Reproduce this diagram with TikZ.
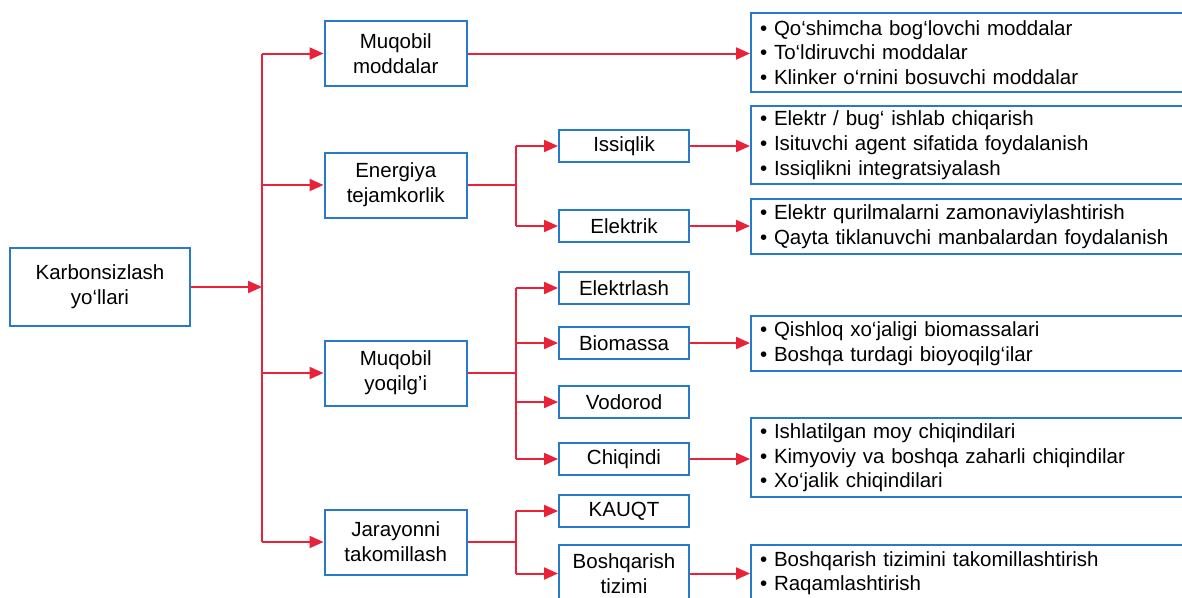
\documentclass[tikz,border=0pt]{standalone}
\usepackage{fontspec}
\setmainfont{Liberation Sans}
\usetikzlibrary{arrows.meta}
\definecolor{lnred}{RGB}{232,34,56}
\definecolor{bxblue}{RGB}{38,122,200}
\begin{document}
\begin{tikzpicture}[x=1pt,y=-1pt,
  font=\fontsize{20.5}{24.7}\selectfont,
  box/.style={draw=bxblue,line width=2pt,rectangle,inner sep=0pt,align=center},
  lone/.style={box,minimum width=142.5pt,minimum height=65pt},
  ltwo/.style={box,minimum width=130pt,minimum height=32.5pt},
  lthree/.style={draw=bxblue,line width=2pt,rectangle,anchor=west,inner xsep=9pt,inner ysep=0pt,text width=442pt,align=left},
  conn/.style={draw=lnred,line width=2pt},
  arr/.style={conn,-{Triangle[length=14pt,width=12pt]}}]
\useasboundingbox (0,0) rectangle (1182,597);
\clip (0,0) rectangle (1182,597);
\fill[white] (0,0) rectangle (1182,597);

% root
\node[box,minimum width=180pt,minimum height=78pt] (root) at (100,287) {Karbonsizlash\\yo‘llari};

% level 1
\node[lone] (mm) at (395.75,53.5) {Muqobil\\moddalar};
\node[lone] (et) at (395.75,185) {Energiya\\tejamkorlik};
\node[lone] (my) at (395.75,373) {Muqobil\\yoqilg’i};
\node[lone] (jt) at (395.75,542) {Jarayonni\\takomillash};

% level 2
\node[ltwo] (iss) at (624,146) {Issiqlik};
\node[ltwo] (elk) at (624,226) {Elektrik};
\node[ltwo] (ell) at (624,288) {Elektrlash};
\node[ltwo] (bio) at (624,343) {Biomassa};
\node[ltwo] (vod) at (624,402) {Vodorod};
\node[ltwo] (chq) at (624,459) {Chiqindi};
\node[ltwo] (kau) at (624,511) {KAUQT};
\node[ltwo,minimum height=57pt] (bos) at (624,573.5) {Boshqarish\\tizimi};

% level 3
\node[lthree,minimum height=79.6pt] (la) at (750,52.5) {• Qo‘shimcha bog‘lovchi moddalar\\• To‘ldiruvchi moddalar\\• Klinker o‘rnini bosuvchi moddalar};
\node[lthree,minimum height=78.3pt] (lb) at (750,145.2) {• Elektr / bug‘ ishlab chiqarish\\• Isituvchi agent sifatida foydalanish\\• Issiqlikni integratsiyalash};
\node[lthree,minimum height=55pt] (lc) at (750,226.5) {• Elektr qurilmalarni zamonaviylashtirish\\• Qayta tiklanuvchi manbalardan foydalanish};
\node[lthree,minimum height=55pt] (ld) at (750,343.5) {• Qishloq xo‘jaligi biomassalari\\• Boshqa turdagi bioyoqilg‘ilar};
\node[lthree,minimum height=79pt] (le) at (750,457.8) {• Ishlatilgan moy chiqindilari\\• Kimyoviy va boshqa zaharli chiqindilar\\• Xo‘jalik chiqindilari};
\node[lthree,minimum height=57pt] (lf) at (750,573.3) {• Boshqarish tizimini takomillashtirish\\• Raqamlashtirish};

% main trunk
\coordinate (t0) at (262,287);
\coordinate (ttop) at (262,53.5);
\coordinate (tbot) at (262,542);
\draw[conn] (ttop) -- (tbot);
\draw[arr] (root.east) -- (t0);
\foreach \n in {mm,et,my,jt} \draw[arr] (\n.west -| t0) -- (\n.west);

% energiya branch
\coordinate (e0) at (515.5,185);
\draw[conn] (et.east) -- (e0);
\draw[conn] (iss.west -| e0) -- (elk.west -| e0);
\foreach \n in {iss,elk} \draw[arr] (\n.west -| e0) -- (\n.west);

% yoqilg'i branch
\coordinate (y0) at (515.5,373);
\draw[conn] (my.east) -- (y0);
\draw[conn] (ell.west -| y0) -- (chq.west -| y0);
\foreach \n in {ell,bio,vod,chq} \draw[arr] (\n.west -| y0) -- (\n.west);

% jarayon branch
\coordinate (j0) at (515.5,542);
\draw[conn] (jt.east) -- (j0);
\draw[conn] (kau.west -| j0) -- (bos.west -| j0);
\foreach \n in {kau,bos} \draw[arr] (\n.west -| j0) -- (\n.west);

% to level 3
\draw[arr] (mm.east) -- (mm.east -| la.west);
\draw[arr] (iss.east) -- (iss.east -| lb.west);
\draw[arr] (elk.east) -- (elk.east -| lc.west);
\draw[arr] (bio.east) -- (bio.east -| ld.west);
\draw[arr] (chq.east) -- (chq.east -| le.west);
\draw[arr] (bos.east) -- (bos.east -| lf.west);
\end{tikzpicture}
\end{document}
